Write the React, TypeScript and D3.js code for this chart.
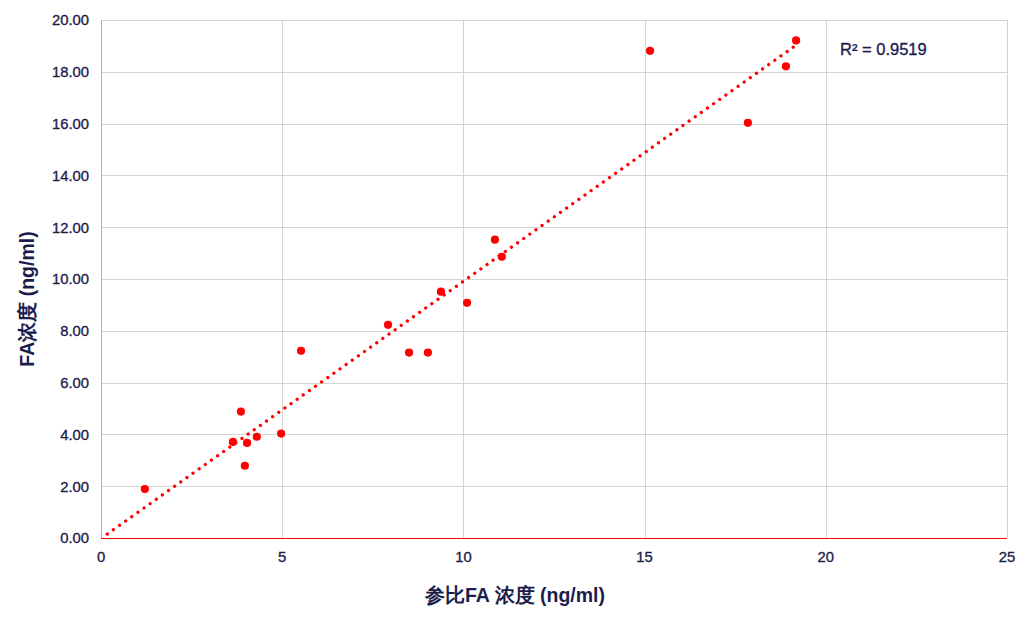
import React from "react";
import * as d3 from "d3";

const refX: number[] = [1.21, 3.86, 3.64, 4.03, 3.97, 4.30, 4.97, 5.52, 7.92, 8.50, 9.02, 9.38, 10.10, 10.87, 11.06, 15.15, 17.85, 18.90, 19.18];
const faY: number[] = [1.89, 4.88, 3.71, 3.67, 2.79, 3.91, 4.03, 7.23, 8.23, 7.16, 7.16, 9.51, 9.08, 11.52, 10.86, 18.81, 16.03, 18.21, 19.21];
const xTicks: number[] = [0, 5, 10, 15, 20, 25];
const yTicks: number[] = [0, 2, 4, 6, 8, 10, 12, 14, 16, 18, 20];
const r2Label = "R² = 0.9519";
const xTitle = "参比FA 浓度 (ng/ml)";
const yTitle = "FA浓度 (ng/ml)";

const W = 1035, H = 622;
const left = 101, right = 1007, top = 20, bottom = 538;
const textColor = "#1b1d4d";
const font = "'Liberation Sans', Arial, sans-serif";

export default function App() {
  const x = d3.scaleLinear().domain([0, 25]).range([left, right]);
  const y = d3.scaleLinear().domain([0, 20]).range([bottom, top]);

  const n = refX.length;
  const mx = d3.mean(refX)!;
  const my = d3.mean(faY)!;
  let sxy = 0, sxx = 0;
  for (let i = 0; i < n; i++) {
    sxy += (refX[i] - mx) * (faY[i] - my);
    sxx += (refX[i] - mx) ** 2;
  }
  const slope = sxy / sxx;
  const icpt = my - slope * mx;
  const x0 = Math.max(0, -icpt / slope);
  const x1 = d3.max(refX)!;
  const line = d3.line<number>().x((v) => x(v)).y((v) => y(slope * v + icpt));

  return (
    <svg width={W} height={H} style={{ position: "absolute", left: 0, top: 0, background: "#fff" }}>
      <rect width={W} height={H} fill="#fff" />
      <g shapeRendering="crispEdges">
        {yTicks.map((t) => (
          <line key={"gy" + t} x1={left} x2={right} y1={y(t) + 0.5} y2={y(t) + 0.5} stroke="#d4d4d4" strokeWidth={1} />
        ))}
        {xTicks.map((t) => (
          <line key={"gx" + t} x1={x(t) + 0.5} x2={x(t) + 0.5} y1={top} y2={bottom} stroke="#d4d4d4" strokeWidth={1} />
        ))}
        <line x1={left + 0.5} x2={left + 0.5} y1={top} y2={bottom} stroke="#b3b3b3" strokeWidth={1} />
        <line x1={left} x2={right} y1={bottom + 0.5} y2={bottom + 0.5} stroke="#ff0000" strokeWidth={1} />
      </g>
      {yTicks.map((t) => (
        <text key={"ty" + t} x={89} y={y(t)} dy="0.36em" textAnchor="end" fontFamily={font} fontSize={14.8} fill={textColor} stroke={textColor} strokeWidth={0.35}>
          {t.toFixed(2)}
        </text>
      ))}
      {xTicks.map((t) => (
        <text key={"tx" + t} x={x(t)} y={562} textAnchor="middle" fontFamily={font} fontSize={14.8} fill={textColor} stroke={textColor} strokeWidth={0.35}>
          {t}
        </text>
      ))}
      <path d={line([x0, x1]) || ""} fill="none" stroke="#ff0000" strokeWidth={3.3} strokeLinecap="round" strokeDasharray="0.01 7.5" strokeDashoffset={0.7} />
      {refX.map((v, i) => (
        <circle key={"p" + i} cx={x(v)} cy={y(faY[i])} r={4.1} fill="#ff0000" />
      ))}
      <text x={840} y={55} fontFamily={font} fontSize={16.5} fill={textColor} stroke={textColor} strokeWidth={0.35}>{r2Label}</text>
      <text x={515} y={602} textAnchor="middle" fontFamily={font} fontSize={19.5} fontWeight="bold" fill={textColor}>
        {xTitle}
      </text>
      <text transform={`translate(34, 299) rotate(-90)`} textAnchor="middle" fontFamily={font} fontSize={19.5} fontWeight="bold" fill={textColor}>
        {yTitle}
      </text>
    </svg>
  );
}
